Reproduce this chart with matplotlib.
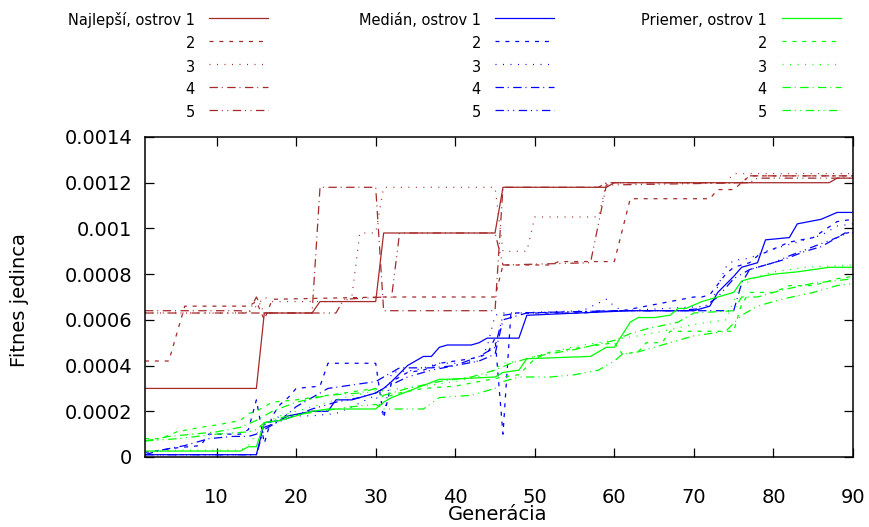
import matplotlib.pyplot as plt
from matplotlib.lines import Line2D

# generation numbers and fitness values (points where the curves change)
best_x = [
    [1, 15, 16, 22, 23, 30, 31, 45, 46, 59, 60, 87, 88, 90],
    [1, 4, 5, 6, 14, 15, 16, 17, 31, 45, 46, 52, 53, 60, 62, 72, 73, 75, 77, 90],
    [1, 14, 15, 16, 17, 26, 27, 28, 30, 31, 45, 46, 49, 50, 58, 59, 74, 75, 90],
    [1, 13, 14, 22, 23, 30, 31, 45, 46, 58, 59, 76, 77, 90],
    [1, 14, 15, 16, 25, 26, 31, 32, 33, 45, 46, 57, 59, 77, 78, 90],
]
best_y = [
    [0.0003, 0.0003, 0.00063, 0.00063, 0.00068, 0.00068, 0.00098, 0.00098, 0.00118, 0.00118, 0.0012, 0.0012, 0.00122, 0.00122],
    [0.00042, 0.00042, 0.00054, 0.00066, 0.00066, 0.00068, 0.0006, 0.00069, 0.0007, 0.0007, 0.00084, 0.00084, 0.000855, 0.000855, 0.00113, 0.00113, 0.00117, 0.00117, 0.00123, 0.00123],
    [0.00063, 0.00063, 0.00066, 0.0007, 0.00068, 0.00068, 0.0007, 0.00098, 0.00098, 0.00118, 0.00118, 0.0009, 0.0009, 0.00105, 0.00105, 0.0012, 0.0012, 0.00124, 0.00124],
    [0.00064, 0.00064, 0.00063, 0.00063, 0.00118, 0.00118, 0.00064, 0.00064, 0.00118, 0.00118, 0.0012, 0.0012, 0.00123, 0.00123],
    [0.00063, 0.00063, 0.0007, 0.00063, 0.00063, 0.00069, 0.0007, 0.0007, 0.00098, 0.00098, 0.00084, 0.00085, 0.00119, 0.0012, 0.00122, 0.00122],
]

median_x = [
    [1, 15, 16, 18, 19, 22, 24, 25, 27, 30, 31, 32, 34, 36, 37, 38, 39, 42, 43, 44, 48, 49, 62, 70, 72, 73, 75, 76, 78, 79, 82, 83, 86, 88, 90],
    [1, 5, 8, 9, 13, 14, 15, 16, 17, 18, 19, 20, 23, 24, 30, 31, 32, 34, 36, 38, 42, 44, 45, 46, 47, 56, 60, 61, 70, 71, 72, 74, 75, 77, 78, 80, 82, 85, 88, 90],
    [1, 15, 16, 18, 22, 25, 27, 30, 31, 32, 35, 38, 40, 43, 44, 45, 46, 47, 56, 59, 60, 61, 72, 74, 75, 77, 79, 81, 84, 86, 88, 90],
    [1, 3, 6, 9, 12, 14, 15, 16, 18, 20, 24, 26, 30, 31, 33, 37, 40, 43, 45, 46, 49, 60, 70, 75, 76, 77, 79, 81, 84, 86, 89, 90],
    [1, 15, 16, 19, 22, 25, 28, 30, 31, 34, 37, 40, 43, 45, 46, 48, 60, 68, 71, 73, 75, 77, 80, 82, 85, 88, 90],
]
median_y = [
    [0.00001, 0.00001, 0.00015, 0.00016, 0.00018, 0.0002, 0.0002, 0.00025, 0.00025, 0.00028, 0.0003, 0.00033, 0.0004, 0.00044, 0.00044, 0.00048, 0.00049, 0.00049, 0.0005, 0.00052, 0.00052, 0.00062, 0.00064, 0.00064, 0.00066, 0.00072, 0.00079, 0.00083, 0.00085, 0.00095, 0.00096, 0.00102, 0.00104, 0.00107, 0.00107],
    [0.00002, 0.00004, 0.00005, 0.0001, 0.0001, 0.00012, 0.00025, 0.00006, 0.00018, 0.00023, 0.00026, 0.0003, 0.00031, 0.00041, 0.00041, 0.00017, 0.00033, 0.00037, 0.00038, 0.00041, 0.00043, 0.00045, 0.00052, 0.0001, 0.00063, 0.00063, 0.00064, 0.00064, 0.0007, 0.0007, 0.00071, 0.0008, 0.00083, 0.00085, 0.00088, 0.00091, 0.00094, 0.00096, 0.00103, 0.00104],
    [0.00001, 0.00001, 0.00014, 0.00018, 0.00018, 0.00019, 0.00022, 0.00027, 0.00018, 0.00037, 0.00038, 0.00041, 0.00041, 0.00042, 0.00048, 0.00062, 0.00063, 0.00063, 0.00064, 0.00069, 0.00066, 0.00064, 0.00066, 0.00083, 0.00086, 0.00087, 0.0009, 0.00092, 0.00095, 0.00097, 0.00101, 0.00102],
    [0.00001, 0.00003, 0.00005, 0.00008, 0.00009, 0.00009, 0.0001, 0.00012, 0.00016, 0.00022, 0.0003, 0.00031, 0.00033, 0.00035, 0.00039, 0.00039, 0.0004, 0.00042, 0.00045, 0.0006, 0.00063, 0.00064, 0.00064, 0.00064, 0.00076, 0.00082, 0.00084, 0.00086, 0.0009, 0.00092, 0.00098, 0.00098],
    [0.00001, 0.00001, 0.00013, 0.00017, 0.00021, 0.00024, 0.00026, 0.00028, 0.0003, 0.00035, 0.00038, 0.0004, 0.00044, 0.00048, 0.00062, 0.00063, 0.00064, 0.00064, 0.00065, 0.0007, 0.00078, 0.00082, 0.00085, 0.00088, 0.00092, 0.00096, 0.00099],
]

mean_x = [
    [1, 13, 14, 15, 16, 18, 22, 24, 30, 31, 32, 35, 38, 39, 45, 46, 48, 49, 57, 59, 60, 62, 63, 65, 67, 68, 69, 71, 73, 75, 76, 77, 80, 83, 87, 90],
    [1, 3, 5, 8, 10, 13, 14, 15, 17, 20, 24, 26, 30, 31, 33, 36, 40, 43, 46, 48, 50, 52, 58, 60, 61, 63, 64, 66, 67, 75, 76, 77, 80, 82, 85, 88, 90],
    [1, 5, 10, 13, 14, 15, 16, 18, 22, 26, 30, 31, 33, 36, 40, 44, 46, 48, 52, 56, 60, 61, 63, 66, 70, 74, 75, 76, 78, 80, 84, 90],
    [1, 4, 7, 10, 13, 15, 17, 20, 24, 28, 30, 31, 34, 38, 42, 45, 47, 50, 55, 60, 62, 64, 68, 70, 75, 76, 78, 81, 85, 90],
    [1, 5, 10, 14, 15, 16, 19, 23, 27, 30, 31, 36, 38, 42, 45, 46, 48, 52, 55, 58, 60, 61, 63, 66, 70, 74, 76, 78, 81, 85, 88, 90],
]
mean_y = [
    [0.000026, 0.000026, 0.000045, 0.000045, 0.00015, 0.00016, 0.0002, 0.00021, 0.00021, 0.00024, 0.00026, 0.0003, 0.00034, 0.00034, 0.00035, 0.00037, 0.00038, 0.00043, 0.00044, 0.00048, 0.00048, 0.00059, 0.00061, 0.00061, 0.00062, 0.00065, 0.00065, 0.00068, 0.0007, 0.00072, 0.00077, 0.00078, 0.0008, 0.00081, 0.00083, 0.00083],
    [0.00008, 0.00008, 0.00011, 0.00013, 0.00014, 0.00016, 0.00019, 0.0002, 0.00024, 0.00025, 0.00027, 0.00028, 0.0003, 0.00026, 0.00028, 0.0003, 0.00031, 0.00033, 0.00035, 0.00036, 0.00043, 0.00046, 0.00049, 0.0005, 0.00045, 0.00046, 0.0005, 0.0005, 0.00055, 0.00055, 0.00067, 0.00072, 0.00072, 0.00075, 0.00075, 0.00078, 0.00079],
    [0.00002, 0.00003, 0.00003, 0.00003, 0.00005, 0.0001, 0.00015, 0.00018, 0.00022, 0.00026, 0.00029, 0.00029, 0.0003, 0.00031, 0.00033, 0.00036, 0.00041, 0.00042, 0.00046, 0.00049, 0.00051, 0.00052, 0.00053, 0.00055, 0.00058, 0.0006, 0.00068, 0.00075, 0.00079, 0.00081, 0.00083, 0.00084],
    [0.00007, 0.00009, 0.0001, 0.00011, 0.00013, 0.00016, 0.0002, 0.00024, 0.00027, 0.00028, 0.0003, 0.00027, 0.0003, 0.00033, 0.00035, 0.00038, 0.00041, 0.00044, 0.00047, 0.00051, 0.00054, 0.00056, 0.00059, 0.00063, 0.00064, 0.0007, 0.0007, 0.00073, 0.00076, 0.00078],
    [0.00007, 0.00008, 0.0001, 0.00011, 0.00012, 0.00015, 0.00018, 0.0002, 0.00022, 0.00023, 0.00021, 0.00021, 0.00026, 0.00027, 0.0003, 0.00033, 0.00035, 0.00035, 0.00036, 0.00038, 0.00042, 0.00045, 0.00046, 0.00049, 0.00053, 0.00055, 0.00062, 0.00066, 0.00069, 0.00072, 0.00075, 0.00076],
]

group_titles = ['Najlepší, ostrov', 'Medián, ostrov', 'Priemer, ostrov']
xticks = [10, 20, 30, 40, 50, 60, 70, 80, 90]
yticks = [0, 0.0002, 0.0004, 0.0006, 0.0008, 0.001, 0.0012, 0.0014]
ytick_labels = ['0', '0.0002', '0.0004', '0.0006', '0.0008', '0.001', '0.0012', '0.0014']

colors = ['#a52a2a', '#0000ff', '#00ff00']
styles = ['-', (0, (3.2, 4.7)), (0, (0.8, 5.2)), (0, (6.7, 3.1, 0.8, 3.6)),
          (0, (6.7, 3.1, 0.8, 3.6, 0.8, 3.6))]

W, H = 870, 527
fig = plt.figure(figsize=(W / 100, H / 100), dpi=100)
ax = fig.add_axes([145 / W, 1 - 457 / H, (853 - 145) / W, (457 - 137) / H])

groups = [(best_x, best_y), (median_x, median_y), (mean_x, mean_y)]
for g, (xs, ys) in enumerate(groups):
    for i in range(5):
        ax.plot(xs[i], ys[i], color=colors[g], linestyle=styles[i], linewidth=0.9)

ax.set_xlim(1, 90)
ax.set_ylim(0, 0.0014)
ax.set_xticks(xticks)
ax.set_xticklabels([str(t) for t in xticks])
ax.set_yticks(yticks)
ax.set_yticklabels(ytick_labels)
ax.tick_params(direction='in', top=True, right=True, length=6.5, width=0.9,
               labelsize=14, colors='black')
ax.tick_params(axis='x', pad=22)
ax.tick_params(axis='y', pad=9)
for s in ax.spines.values():
    s.set_linewidth(1.1)

fig.text(20 / W, 1 - 300 / H, 'Fitnes jedinca', rotation=90, ha='center', va='center', fontsize=14)
fig.text(498 / W, 1 - 515 / H, 'Generácia', ha='center', va='center', fontsize=14)

# key in three columns, gnuplot style (text right-aligned, sample on the right)
text_right = [195, 481, 767]
line_left = [209, 495, 782]
row_y = [17.5, 41, 64, 87, 109.5]
for g in range(3):
    for i in range(5):
        label = group_titles[g] + ' 1' if i == 0 else str(i + 1)
        fig.text(text_right[g] / W, 1 - (row_y[i] + 7.5) / H, label, ha='right',
                 va='baseline', fontsize=10.5)
        fig.add_artist(Line2D([line_left[g] / W, (line_left[g] + 59) / W],
                              [1 - row_y[i] / H, 1 - row_y[i] / H],
                              color=colors[g], linestyle=styles[i], linewidth=0.9))

fig.savefig('out.png', dpi=100)
